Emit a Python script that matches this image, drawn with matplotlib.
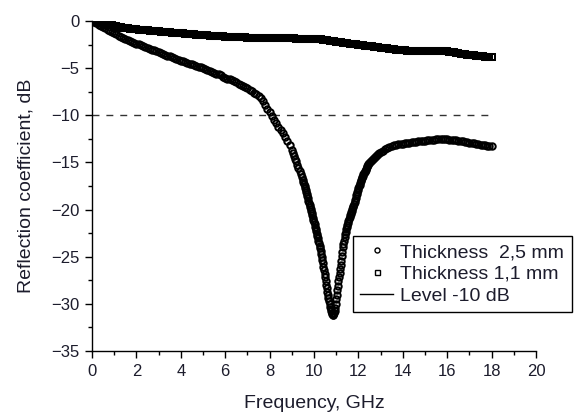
import numpy as np
import matplotlib
matplotlib.use("Agg")
import matplotlib.pyplot as plt
from matplotlib.lines import Line2D
from matplotlib.ticker import MultipleLocator

plt.rcParams['font.family'] = ['Liberation Sans', 'DejaVu Sans']

# ---- data: thickness 2.5 mm ----
refl_25_a = [0, -0.13, -0.26, -0.39, -0.52, -0.65, -0.78, -0.91, -1.04, -1.17,
             -1.3, -1.42, -1.54, -1.66, -1.78, -1.9, -2.0, -2.1, -2.2, -2.3,
             -2.4, -2.49, -2.58, -2.67, -2.76, -2.85, -2.94, -3.03, -3.12, -3.21,
             -3.3, -3.39, -3.48, -3.57, -3.66, -3.75, -3.84, -3.93, -4.02, -4.11,
             -4.2, -4.28, -4.36, -4.44, -4.52, -4.6, -4.68, -4.76, -4.84, -4.92,
             -5.0, -5.09, -5.18, -5.27, -5.37, -5.47, -5.57, -5.67, -5.78, -5.89,
             -6.0, -6.1, -6.2, -6.3, -6.41, -6.52, -6.64, -6.76, -6.89, -7.02,
             -7.15, -7.29, -7.44, -7.6, -7.77, -7.96, -8.2, -8.5, -8.9, -9.3,
             -9.7, -10.1, -10.5, -10.85, -11.2, -11.55, -11.9, -12.3, -12.7, -13.2]  # 0.0..8.9 step 0.1
refl_25_b = [-13.7, -14.0, -14.3, -14.6, -14.9, -15.25, -15.6, -15.9, -16.2, -16.55]  # 9.0..9.45 step 0.05
refl_25_c = [-16.9, -17.1, -17.3, -17.5, -17.7, -17.92, -18.15, -18.37, -18.6, -18.82,
             -19.05, -19.27, -19.5, -19.72, -19.95, -20.17, -20.4, -20.62, -20.85, -21.07,
             -21.3, -21.55, -21.8, -22.05, -22.3, -22.55, -22.8, -23.05, -23.3, -23.57,
             -23.85, -24.12, -24.4, -24.72, -25.05, -25.37, -25.7, -26.07, -26.45, -26.82,
             -27.2, -27.57, -27.95, -28.32, -28.7, -29.05, -29.4, -29.72, -30.0, -30.3,
             -30.55, -30.8, -31.0, -31.12, -31.2, -31.15, -31.0, -30.75, -30.4, -29.98,
             -29.5, -29.02, -28.55, -28.07, -27.6, -27.17, -26.75, -26.32, -25.9, -25.42,
             -24.95, -24.47, -24.0, -23.65, -23.3, -22.95, -22.6, -22.35, -22.1, -21.85,
             -21.6, -21.4, -21.2, -21.0, -20.8, -20.62, -20.45, -20.27, -20.1, -19.92,
             -19.75, -19.57, -19.4, -19.17, -18.95, -18.72, -18.5, -18.3, -18.1, -17.9,
             -17.7, -17.52, -17.35, -17.17, -17.0, -16.85, -16.7, -16.55, -16.4, -16.27,
             -16.15, -16.02, -15.9, -15.77, -15.65, -15.52, -15.4, -15.3, -15.2, -15.1,
             -15.0]  # 9.5..12.5 step 0.025
refl_25_d = [-14.85, -14.7, -14.6, -14.5, -14.4, -14.3, -14.2, -14.1, -14.0, -13.9]  # 12.55..13.0 step 0.05
refl_25_e = [-13.75, -13.6, -13.47, -13.35, -13.27, -13.2, -13.14, -13.08, -13.03, -13.0,
             -12.97, -12.94, -12.91, -12.88, -12.85, -12.82, -12.78, -12.75, -12.72, -12.7,
             -12.67, -12.64, -12.61, -12.58, -12.55, -12.54, -12.53, -12.53, -12.54, -12.55,
             -12.58, -12.61, -12.64, -12.67, -12.7, -12.74, -12.78, -12.82, -12.86, -12.9,
             -12.94, -12.98, -13.02, -13.06, -13.1, -13.14, -13.18, -13.22, -13.26, -13.3]  # 13.1..18.0 step 0.1

# ---- data: thickness 1.1 mm (0..18 step 0.1) ----
refl_11 = [0, -0.02, -0.05, -0.09, -0.14, -0.2, -0.27, -0.34, -0.41, -0.47,
           -0.53, -0.58, -0.63, -0.67, -0.71, -0.75, -0.78, -0.81, -0.84, -0.87,
           -0.9, -0.92, -0.94, -0.96, -0.98, -1.0, -1.02, -1.04, -1.06, -1.08,
           -1.1, -1.12, -1.14, -1.16, -1.18, -1.2, -1.22, -1.24, -1.26, -1.28,
           -1.3, -1.32, -1.34, -1.36, -1.38, -1.4, -1.42, -1.44, -1.46, -1.48,
           -1.5, -1.52, -1.53, -1.55, -1.56, -1.58, -1.59, -1.61, -1.62, -1.64,
           -1.65, -1.66, -1.67, -1.68, -1.69, -1.7, -1.71, -1.72, -1.73, -1.74,
           -1.75, -1.755, -1.76, -1.765, -1.77, -1.775, -1.78, -1.785, -1.79, -1.795,
           -1.8, -1.805, -1.81, -1.815, -1.82, -1.825, -1.83, -1.835, -1.84, -1.845,
           -1.85, -1.85, -1.86, -1.86, -1.87, -1.87, -1.88, -1.88, -1.89, -1.89,
           -1.9, -1.91, -1.93, -1.95, -1.98, -2.01, -2.05, -2.09, -2.13, -2.17,
           -2.21, -2.25, -2.28, -2.31, -2.34, -2.37, -2.4, -2.43, -2.46, -2.49,
           -2.52, -2.55, -2.58, -2.61, -2.64, -2.67, -2.7, -2.73, -2.76, -2.79,
           -2.82, -2.85, -2.88, -2.91, -2.94, -2.97, -3.0, -3.03, -3.06, -3.08,
           -3.1, -3.12, -3.13, -3.14, -3.15, -3.15, -3.15, -3.15, -3.15, -3.15,
           -3.15, -3.15, -3.15, -3.15, -3.15, -3.16, -3.17, -3.18, -3.19, -3.2,
           -3.22, -3.25, -3.29, -3.33, -3.37, -3.41, -3.45, -3.49, -3.53, -3.56,
           -3.59, -3.62, -3.65, -3.68, -3.71, -3.74, -3.76, -3.78, -3.8, -3.82,
           -3.85]

level = -10
level_x = [0, 18]
x_ticks = [0, 2, 4, 6, 8, 10, 12, 14, 16, 18, 20]
y_ticks = [0, -5, -10, -15, -20, -25, -30, -35]
labels = ["Thickness  2,5 mm", "Thickness 1,1 mm", "Level -10 dB"]

freq_25 = np.concatenate([np.round(np.arange(0, 90) * 0.1, 3),
                          np.round(9.0 + np.arange(0, 10) * 0.05, 3),
                          np.round(9.5 + np.arange(0, 121) * 0.025, 4),
                          np.round(12.55 + np.arange(0, 10) * 0.05, 3),
                          np.round(13.1 + np.arange(0, 50) * 0.1, 3)])
refl_25 = np.array(refl_25_a + refl_25_b + refl_25_c + refl_25_d + refl_25_e)
freq_11 = np.round(np.arange(0, 181) * 0.1, 3)
assert len(freq_25) == len(refl_25), (len(freq_25), len(refl_25))
assert len(freq_11) == len(refl_11), len(refl_11)

fig = plt.figure(figsize=(5.82, 4.16), dpi=100)
ax = fig.add_axes([92/582, 1-351/416, (536-92)/582, (351-21)/416])

tc = '#1c1c2c'
mk = dict(ls='none', ms=4.6, mfc='none', mec='black', mew=1.45)
ax.plot(level_x, [level, level], color='#333333', lw=1.0, dashes=(5, 5), zorder=1)
ax.plot(freq_11, refl_11, marker='s', zorder=2, **mk)
ax.plot(freq_25, refl_25, marker='o', zorder=3, **mk)

ax.set_xlim(0, 20)
ax.set_ylim(-35, 0)
ax.set_xticks(x_ticks)
ax.set_yticks(y_ticks)
ax.xaxis.set_minor_locator(MultipleLocator(1))
ax.yaxis.set_minor_locator(MultipleLocator(2.5))
for s in ['top', 'right']:
    ax.spines[s].set_visible(False)
for s in ['left', 'bottom']:
    ax.spines[s].set_linewidth(1.0)
ax.tick_params(which='major', direction='out', length=5, width=1, labelsize=12,
               colors='black', labelcolor=tc, pad=4)
ax.tick_params(which='minor', direction='out', length=3, width=1)

ax.set_xlabel("Frequency, GHz", fontsize=14, color=tc, labelpad=12)
ax.set_ylabel("Reflection coefficient, dB", fontsize=14, color=tc, labelpad=12)

leg_mk = dict(ls='none', ms=3.6, mfc='white', mec='black', mew=1.0)
handles = [Line2D([], [], marker='o', **leg_mk),
           Line2D([], [], marker='s', **leg_mk),
           Line2D([], [], color='black', lw=1.0)]
leg = fig.legend(handles, labels, loc='upper left', bbox_to_anchor=(353/582, 1-236/416),
                 frameon=True, fancybox=False, edgecolor='black', framealpha=1,
                 fontsize=14, handlelength=1.7, handletextpad=0.35, labelspacing=0.22,
                 borderpad=0.38, borderaxespad=0)
leg.get_frame().set_linewidth(1.0)
for t in leg.get_texts():
    t.set_color(tc)

fig.savefig("out.png", dpi=100)
